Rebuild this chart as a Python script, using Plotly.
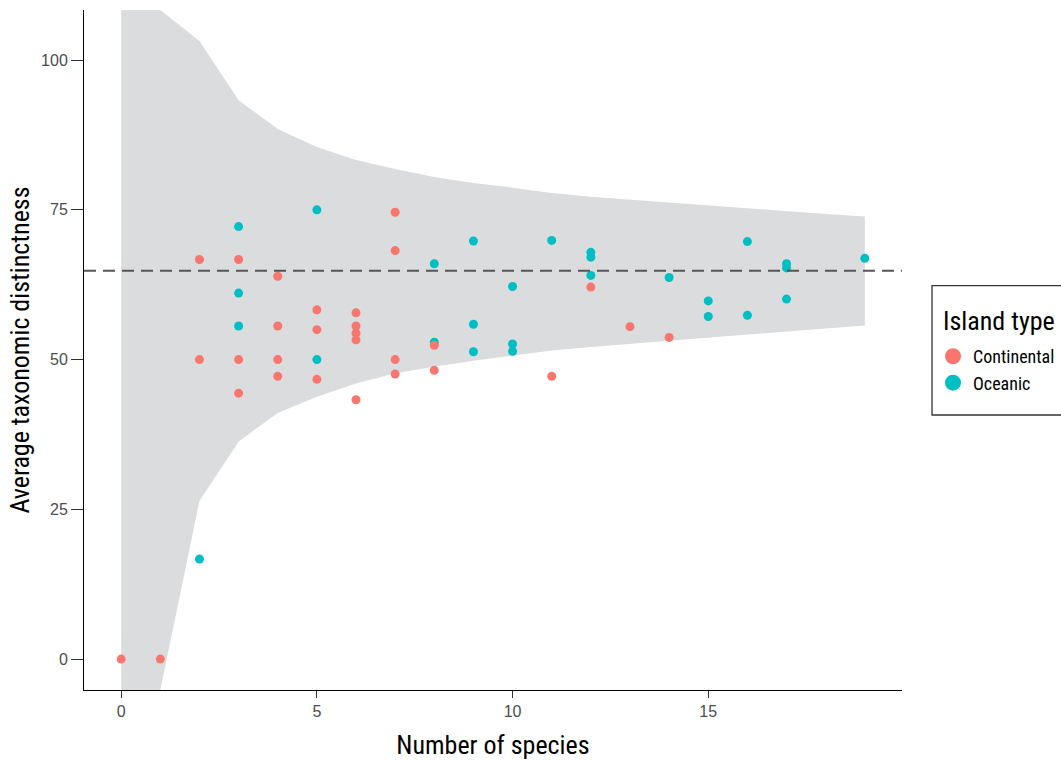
import plotly.graph_objects as go

# ---- data ----
cont_x = [0, 1, 2, 2, 3, 3, 3, 4, 4, 4, 4, 5, 5, 5, 6, 6, 6, 6, 6, 7, 7, 7, 7, 8, 8, 11, 12, 13, 14]
cont_y = [0, 0, 66.7, 50, 66.7, 50, 44.4, 63.9, 55.6, 50, 47.2, 58.3, 55, 46.7,
          57.8, 55.6, 54.4, 53.3, 43.3, 74.6, 68.2, 50, 47.6, 52.4, 48.2, 47.2, 62.1, 55.5, 53.7]

ocean_x = [2, 3, 3, 3, 5, 5, 8, 8, 9, 9, 9, 10, 10, 10, 11, 12, 12, 12, 14, 15, 15, 16, 16, 17, 17, 17, 19]
ocean_y = [16.7, 72.2, 61.1, 55.6, 75, 50, 66, 52.9, 69.8, 55.9, 51.3, 62.2, 52.6, 51.4, 69.9,
           67.9, 67.1, 64.05, 63.7, 59.8, 57.2, 69.7, 57.4, 66, 65.3, 60.1, 66.9]

Y_MIN, Y_MAX = -5.16, 108.36

rib_x = list(range(0, 20))
rib_upper = [Y_MAX, Y_MAX, 103.2, 93.3, 88.5, 85.5, 83.3, 81.8, 80.5, 79.5, 78.7, 77.8, 77.2,
             76.7, 76.2, 75.7, 75.2, 74.8, 74.3, 73.9]
rib_lower = [Y_MIN, Y_MIN, 26.4, 36.3, 41.1, 43.8, 46.0, 47.7, 48.8, 49.8, 50.7, 51.5, 52.1,
             52.6, 53.2, 53.7, 54.2, 54.7, 55.2, 55.7]

mean_atd = 64.83

x_ticks = [0, 5, 10, 15]
y_ticks = [0, 25, 50, 75, 100]

RED = "#F8766D"
TEAL = "#00BFC4"
COND = "Roboto Condensed, DejaVu Sans Condensed, sans-serif"

fig = go.Figure()

fig.add_trace(go.Scatter(x=rib_x + rib_x[::-1], y=rib_upper + rib_lower[::-1],
                         fill="toself", fillcolor="#DBDCDE", line=dict(width=0),
                         mode="lines", hoverinfo="skip", showlegend=False))

fig.add_shape(type="line", xref="paper", x0=0, x1=1, yref="y", y0=mean_atd, y1=mean_atd,
              line=dict(color="#555555", width=2, dash="12px,7px"))

fig.add_trace(go.Scatter(x=ocean_x, y=ocean_y, mode="markers",
                         marker=dict(color=TEAL, size=9), showlegend=False))
fig.add_trace(go.Scatter(x=cont_x, y=cont_y, mode="markers",
                         marker=dict(color=RED, size=9), showlegend=False))

fig.add_trace(go.Scatter(x=[None], y=[None], mode="markers", name="Continental",
                         marker=dict(color=RED, size=16)))
fig.add_trace(go.Scatter(x=[None], y=[None], mode="markers", name="Oceanic",
                         marker=dict(color=TEAL, size=16)))

# legend frame and title
fig.add_shape(type="rect", xref="paper", yref="paper", x0=1.0367, x1=1.2115, y0=0.4044, y1=0.5946,
              line=dict(color="#333333", width=1.3), fillcolor="rgba(0,0,0,0)")
fig.add_annotation(xref="paper", yref="paper", x=1.0477, y=0.5426, xanchor="left", yanchor="middle",
                   text="Island type", showarrow=False,
                   font=dict(family=COND, size=26, color="black"))

fig.update_layout(
    width=1061, height=761,
    margin=dict(l=84, r=159, t=10, b=71, autoexpand=False),
    plot_bgcolor="white", paper_bgcolor="white",
    font=dict(family=COND, color="black"),
    legend=dict(
        font=dict(family=COND, size=18, color="black"),
        x=1.0379, xanchor="left", y=0.5176, yanchor="top",
        borderwidth=0, bgcolor="rgba(0,0,0,0)", tracegroupgap=0,
    ),
    xaxis=dict(
        range=[-0.95, 19.95], tickvals=x_ticks, ticktext=[str(v) for v in x_ticks],
        showgrid=False, zeroline=False, showline=True, linecolor="black", linewidth=1,
        ticks="outside", ticklen=7, tickcolor="#333333", tickwidth=1,
        tickfont=dict(family="Liberation Sans", size=16, color="#4D4D4D"),
        title=dict(text="Number of species", font=dict(family=COND, size=26, color="black"),
                   standoff=16),
    ),
    yaxis=dict(
        range=[Y_MIN, Y_MAX], tickvals=y_ticks, ticktext=[str(v) for v in y_ticks],
        showgrid=False, zeroline=False, showline=True, linecolor="black", linewidth=1,
        ticks="outside", ticklen=12, tickcolor="#333333", tickwidth=1,
        tickfont=dict(family="Liberation Sans", size=16, color="#4D4D4D"),
        title=dict(text="Average taxonomic distinctness",
                   font=dict(family=COND, size=26, color="black"), standoff=3),
    ),
)

fig.write_html("out.html", config={"displayModeBar": False},
               post_script="document.body.style.margin='0';")
